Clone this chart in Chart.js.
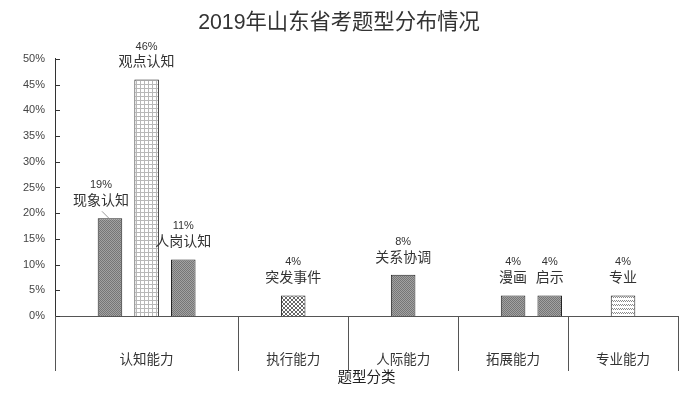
<!DOCTYPE html>
<html>
<head>
<meta charset="utf-8">
<script src="https://cdn.jsdelivr.net/npm/chart.js@4"></script>
<style>
  html, body { margin: 0; padding: 0; background: #fff; }
  #c { display: block; }
</style>
</head>
<body>
<canvas id="c" width="693" height="398"></canvas>
<script>
// ---- data ----
const chartTitle = '2019年山东省考题型分布情况';
const axisTitle = '题型分类';
const groupNames = ['认知能力', '执行能力', '人际能力', '拓展能力', '专业能力'];
const groupSizes = [5, 3, 3, 3, 3];
const slotNames = ['', '现象认知', '观点认知', '人岗认知', '',
                   '', '突发事件', '',
                   '', '关系协调', '',
                   '', '漫画', '启示',
                   '', '专业', ''];
const slotValues = [null, 19, 46, 11, null,
                    null, 4, null,
                    null, 8, null,
                    null, 4, 4,
                    null, 4, null];
const slotPatterns = ['', 'dense', 'grid', 'dense', '',
                      '', 'cross', '',
                      '', 'dense', '',
                      '', 'dense', 'dense',
                      '', 'wave', ''];
const yMin = 0, yMax = 50, yStep = 5;

// label nudges (style, not data)
const labelDx = [0, -9, 0, 0, 0, 0, 0, 0, 0, 0, 0, 0, 0, 0, 0, 0, 0];
const leaderLine = [false, true, false, false, false, false, false, false, false, false, false, false, false, false, false, false, false];

const LATIN = "'Liberation Sans', 'Noto Sans CJK SC', sans-serif";

function makePattern(kind) {
  const c = document.createElement('canvas');
  const x = c.getContext('2d');
  if (kind === 'dense') {
    c.width = 2; c.height = 2;
    x.fillStyle = '#a2a2a2'; x.fillRect(0, 0, 2, 2);
    x.fillStyle = '#767676'; x.fillRect(0, 0, 1, 1); x.fillRect(1, 1, 1, 1);
  } else if (kind === 'grid') {
    c.width = 4; c.height = 4;
    x.fillStyle = '#ffffff'; x.fillRect(0, 0, 4, 4);
    x.fillStyle = '#b8b8b8'; x.fillRect(0, 0, 4, 1); x.fillRect(0, 0, 1, 4);
  } else if (kind === 'cross') {
    c.width = 4; c.height = 4;
    x.fillStyle = '#ffffff'; x.fillRect(0, 0, 4, 4);
    x.fillStyle = '#666666';
    for (let i = 0; i < 4; i++) { x.fillRect(i, i, 1, 1); x.fillRect(3 - i, i, 1, 1); }
  } else if (kind === 'wave') {
    c.width = 4; c.height = 4;
    x.fillStyle = '#ffffff'; x.fillRect(0, 0, 4, 4);
    x.fillStyle = '#8a8a8a';
    x.fillRect(0, 0, 1, 1); x.fillRect(2, 0, 1, 1); x.fillRect(1, 1, 1, 1); x.fillRect(3, 1, 1, 1);
  } else {
    c.width = 1; c.height = 1;
  }
  return x.createPattern(c, 'repeat');
}

const ctx0 = document.getElementById('c').getContext('2d');
const bgColors = slotPatterns.map(p => p ? makePattern(p) : 'rgba(0,0,0,0)');

const decorPlugin = {
  id: 'decor',
  afterDraw(chart) {
    const {ctx, chartArea} = chart;
    const xs = chart.scales.x, ys = chart.scales.y;
    ctx.save();
    // inward y ticks
    ctx.strokeStyle = '#333';
    ctx.lineWidth = 1;
    for (let v = yMin; v <= yMax; v += yStep) {
      const py = Math.round(ys.getPixelForValue(v)) + 0.5;
      ctx.beginPath();
      ctx.moveTo(chartArea.left, py);
      ctx.lineTo(chartArea.left + 5, py);
      ctx.stroke();
    }
    // group dividers and labels
    const bottom = chartArea.bottom;
    ctx.strokeStyle = '#555';
    let start = 0;
    ctx.fillStyle = '#333';
    ctx.font = "13.5px " + LATIN;
    ctx.textAlign = 'center';
    ctx.textBaseline = 'middle';
    const edges = [start];
    groupSizes.forEach(s => { start += s; edges.push(start); });
    edges.forEach(e => {
      const px = Math.round(xs.getPixelForValue(e - 0.5)) + 0.5;
      ctx.beginPath();
      ctx.moveTo(px, bottom);
      ctx.lineTo(px, bottom + 55);
      ctx.stroke();
    });
    groupNames.forEach((g, i) => {
      const a = xs.getPixelForValue(edges[i] - 0.5);
      const b = xs.getPixelForValue(edges[i + 1] - 0.5);
      ctx.fillText(g, (a + b) / 2, bottom + 44);
    });
    // data labels
    const meta = chart.getDatasetMeta(0);
    meta.data.forEach((bar, i) => {
      const v = slotValues[i];
      if (v === null || v === undefined) return;
      const cx = bar.x + labelDx[i];
      const top = bar.y;
      ctx.fillStyle = '#333';
      ctx.font = "11px " + LATIN;
      ctx.fillText(v + '%', cx, top - 33);
      ctx.font = "14px " + LATIN;
      ctx.fillText(slotNames[i], cx, top - 17);
      if (leaderLine[i]) {
        ctx.strokeStyle = '#999';
        ctx.beginPath();
        ctx.moveTo(cx + 1, top - 7);
        ctx.lineTo(bar.x - 1, top);
        ctx.stroke();
      }
    });
    ctx.restore();
  }
};

new Chart(ctx0, {
  type: 'bar',
  data: {
    labels: slotNames,
    datasets: [{
      data: slotValues,
      backgroundColor: bgColors,
      borderColor: '#222',
      borderWidth: 1,
      barPercentage: 0.67,
      categoryPercentage: 1
    }]
  },
  options: {
    responsive: false,
    animation: false,
    devicePixelRatio: 1,
    layout: { padding: { left: 0, right: 15, top: 0, bottom: 0 } },
    plugins: {
      legend: { display: false },
      tooltip: { enabled: false },
      title: {
        display: true,
        text: chartTitle,
        color: '#333',
        font: { family: LATIN, size: 21.3, weight: 'normal' },
        padding: { top: 10, bottom: 23.4 }
      }
    },
    scales: {
      x: {
        grid: { display: false },
        border: { display: true, color: '#555', width: 1 },
        ticks: { display: false },
        title: {
          display: true,
          text: axisTitle,
          color: '#222',
          font: { family: LATIN, size: 14.5 },
          padding: { top: 0, bottom: 11.3 }
        },
        afterFit(scale) { scale.height = 82; }
      },
      y: {
        min: yMin,
        max: yMax,
        grid: { display: false, drawTicks: false },
        border: { display: true, color: '#333', width: 1 },
        ticks: {
          stepSize: yStep,
          padding: 10,
          color: '#444',
          font: { family: LATIN, size: 11 },
          callback: v => v + '%'
        },
        afterFit(scale) { scale.width = 55; }
      }
    }
  },
  plugins: [decorPlugin]
});
</script>
</body>
</html>
